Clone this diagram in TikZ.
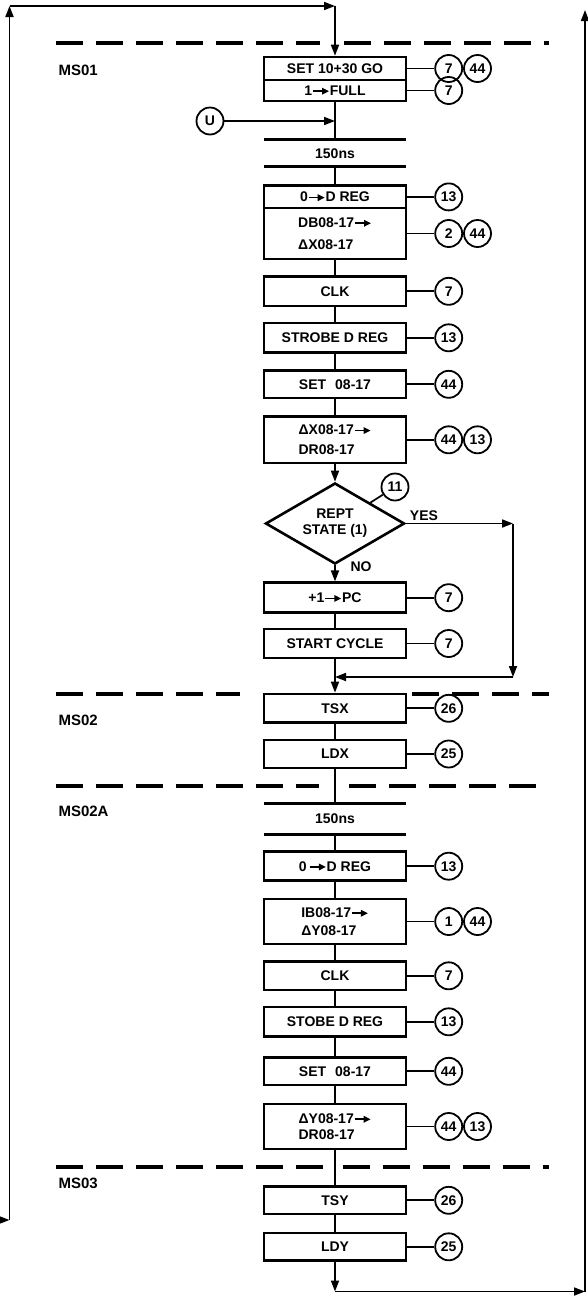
\documentclass[tikz,border=0pt]{standalone}
\usepackage{fontspec}
\setmainfont{Liberation Sans}
\usetikzlibrary{arrows.meta, shapes.geometric, positioning}
\newcommand{\toarr}{\tikz[x=1cm,y=1cm,baseline=-0.55ex]\draw[line width=1.6pt,-{Triangle[length=7pt,width=6.5pt]}] (0pt,0pt) -- (16pt,0pt);}

\begin{document}
\begin{tikzpicture}[x=1pt, y=-1pt,
  blk/.style={draw, rectangle, line width=2.6pt, minimum width=142pt, minimum height=28pt, inner sep=2pt, font=\fontsize{14}{16}\selectfont\bfseries},
  num/.style={draw, circle, line width=1.8pt, minimum size=27pt, inner sep=0pt, font=\fontsize{14}{16}\selectfont\bfseries},
  txt/.style={font=\fontsize{14}{16}\selectfont\bfseries},
  lbl/.style={anchor=west, font=\fontsize{15}{17}\selectfont\bfseries},
  wire/.style={line width=1.7pt},
  flow/.style={wire, -{Triangle[length=11pt,width=8pt]}},
  msline/.style={line width=4pt, dash pattern=on 27pt off 13pt},
  bar/.style={line width=2.8pt},
]
\useasboundingbox (0,0) rectangle (588,1299);
%
% MS01
\draw[msline] (56,43) -- (320,43);
\draw[msline] (344,43) -- (549,43);
\node[lbl] (ms1) at (55,70) {MS01};
\node[blk, minimum height=23pt] (set1) at (335,68.5) {SET 10+30 GO};
\node[blk, minimum height=21pt] (full1) at (335,90.5) {1\toarr FULL};
\node[num, right=27pt of set1] (r7a) {7};
\node[num, right=0pt of r7a] (r44a) {44};
\node[num, right=27pt of full1] (r7b) {7};
\draw[wire] (set1) -- (r7a);
\draw[wire] (full1) -- (r7b);
%
% U entry and 150ns wait
\node[num] (u) at (210,121) {U};
\coordinate (uin) at (335,121);
\node[txt, minimum width=142pt, minimum height=26.7pt] (ns1) at (335,153.3) {150ns};
\draw[bar] (ns1.north west) -- (ns1.north east);
\draw[bar] (ns1.south west) -- (ns1.south east);
\draw[flow] (u) -- (uin);
\draw[wire] (full1) -- (ns1);
%
% register transfers
\node[blk, minimum height=22.3pt] (odr1) at (335,196.9) {0\toarr D REG};
\node[blk, minimum height=51pt, align=left] (dbx) at (335,233.5) {DB08-17\toarr\\[6pt]ΔX08-17};
\node[num, right=27pt of odr1] (r13a) {13};
\node[num, right=27pt of dbx] (r2) {2};
\node[num, right=0pt of r2] (r44b) {44};
\draw[wire] (odr1) -- (r13a);
\draw[wire] (dbx) -- (r2);
\draw[wire] (ns1) -- (odr1);
%
\node[blk, minimum height=29.3pt] (clk1) at (335,291.3) {CLK};
\node[blk, minimum height=29.7pt] (strobe) at (335,337.8) {STROBE D REG};
\node[blk, minimum height=27.3pt] (set08) at (335,384.3) {SET\hspace{9pt}08-17};
\node[blk, minimum height=46.3pt, align=left] (dxdr) at (335,439.8) {ΔX08-17\toarr\\[4pt]DR08-17};
\node[num, right=27pt of clk1] (r7c) {7};
\node[num, right=27pt of strobe] (r13b) {13};
\node[num, right=27pt of set08] (r44c) {44};
\node[num, right=27pt of dxdr] (r44d) {44};
\node[num, right=0pt of r44d] (r13c) {13};
\draw[wire] (clk1) -- (r7c);
\draw[wire] (strobe) -- (r13b);
\draw[wire] (set08) -- (r44c);
\draw[wire] (dxdr) -- (r44d);
\draw[wire] (dbx) -- (clk1);
\draw[wire] (clk1) -- (strobe);
\draw[wire] (strobe) -- (set08);
\draw[wire] (set08) -- (dxdr);
%
% decision
\node[draw, diamond, line width=2.6pt, minimum width=139pt, minimum height=81pt, inner sep=0pt, aspect=1.7, align=center, txt] (dia) at (335,523.5) {REPT\\STATE (1)};
\node[num] (r11) at (395,487) {11};
\draw[wire] (dia.north east) -- (r11);
\node[txt] (yes) at (424,516) {YES};
\node[txt] (no) at (361,567) {NO};
\draw[flow] (dxdr) -- (dia);
%
\node[blk, minimum height=30pt] (pc) at (335,597.7) {+1\toarr PC};
\node[blk, minimum height=29pt] (start) at (335,643.5) {START CYCLE};
\node[num, right=27pt of pc] (r7d) {7};
\node[num, right=27pt of start] (r7e) {7};
\draw[wire] (pc) -- (r7d);
\draw[wire] (start) -- (r7e);
\draw[flow] (dia) -- (pc);
\draw[wire] (pc) -- (start);
%
% YES branch joins below START CYCLE
\coordinate (yr) at (513,523.5);
\coordinate (yd) at (513,677);
\coordinate (mrg) at (335,677);
\draw[flow] (dia) -- (yr);
\draw[flow] (yr) -- (yd);
\draw[flow] (yd) -- (mrg);
\draw[wire] (start) -- (mrg);
%
% MS02
\draw[msline] (56,694) -- (240,694);
\draw[msline] (412,694) -- (549,694);
\node[lbl] (ms2) at (55,720) {MS02};
\node[blk, minimum height=28.7pt] (tsx) at (335,708.3) {TSX};
\node[blk, minimum height=28pt] (ldx) at (335,754) {LDX};
\node[num, right=27pt of tsx] (r26a) {26};
\node[num, right=27pt of ldx] (r25a) {25};
\draw[wire] (tsx) -- (r26a);
\draw[wire] (ldx) -- (r25a);
\draw[flow] (mrg) -- (tsx);
\draw[wire] (tsx) -- (ldx);
%
% MS02A
\draw[msline] (56,786) -- (319,786);
\draw[msline] (349,786) -- (549,786);
\node[lbl] (ms2a) at (55,811.7) {MS02A};
\node[txt, minimum width=142pt, minimum height=30pt] (ns2) at (335,819) {150ns};
\draw[bar] (ns2.north west) -- (ns2.north east);
\draw[bar] (ns2.south west) -- (ns2.south east);
\draw[wire] (ldx) -- (ns2);
%
\node[blk, minimum height=29pt] (odr2) at (335,866.2) {0\,\toarr D REG};
\node[blk, minimum height=45pt, align=left] (ib) at (335,921.5) {IB08-17\toarr\\[2pt]ΔY08-17};
\node[blk, minimum height=28.3pt] (clk2) at (335,975.8) {CLK};
\node[blk, minimum height=29.7pt] (stobe) at (335,1021.8) {STOBE D REG};
\node[blk, minimum height=27.3pt] (set08b) at (335,1071.3) {SET\hspace{9pt}08-17};
\node[blk, minimum height=45pt, align=left] (dydr) at (335,1126.5) {ΔY08-17\toarr\\DR08-17};
\node[num, right=27pt of odr2] (r13d) {13};
\node[num, right=27pt of ib] (r1) {1};
\node[num, right=0pt of r1] (r44e) {44};
\node[num, right=27pt of clk2] (r7f) {7};
\node[num, right=27pt of stobe] (r13e) {13};
\node[num, right=27pt of set08b] (r44f) {44};
\node[num, right=27pt of dydr] (r44g) {44};
\node[num, right=0pt of r44g] (r13f) {13};
\draw[wire] (odr2) -- (r13d);
\draw[wire] (ib) -- (r1);
\draw[wire] (clk2) -- (r7f);
\draw[wire] (stobe) -- (r13e);
\draw[wire] (set08b) -- (r44f);
\draw[wire] (dydr) -- (r44g);
\draw[wire] (ns2) -- (odr2);
\draw[wire] (odr2) -- (ib);
\draw[wire] (ib) -- (clk2);
\draw[wire] (clk2) -- (stobe);
\draw[wire] (stobe) -- (set08b);
\draw[wire] (set08b) -- (dydr);
%
% MS03
\draw[msline] (56,1166.7) -- (328,1166.7);
\draw[msline] (343,1166.7) -- (549,1166.7);
\node[lbl] (ms3) at (55,1183) {MS03};
\node[blk, minimum height=27.3pt] (tsy) at (335,1200.3) {TSY};
\node[blk, minimum height=27.7pt] (ldy) at (335,1246.8) {LDY};
\node[num, right=27pt of tsy] (r26b) {26};
\node[num, right=27pt of ldy] (r25b) {25};
\draw[wire] (tsy) -- (r26b);
\draw[wire] (ldy) -- (r25b);
\draw[wire] (dydr) -- (tsy);
\draw[wire] (tsy) -- (ldy);
%
% loop back on the left, exit on the right
\coordinate (lin) at (0,1220);
\coordinate (lb) at (9.5,1220);
\coordinate (lt) at (9.5,6);
\coordinate (ct) at (335,6);
\draw[flow] (lin) -- (lb);
\draw[flow] (lb) -- (lt);
\draw[flow] (lt) -- (ct);
\draw[flow] (ct) -- (set1);
\coordinate (cb) at (335,1291.5);
\coordinate (rb) at (585,1291.5);
\coordinate (rt) at (585,10);
\draw[flow] (ldy) -- (cb);
\draw[flow] (cb) -- (rb);
\draw[flow] (rb) -- (rt);
\end{tikzpicture}
\end{document}
